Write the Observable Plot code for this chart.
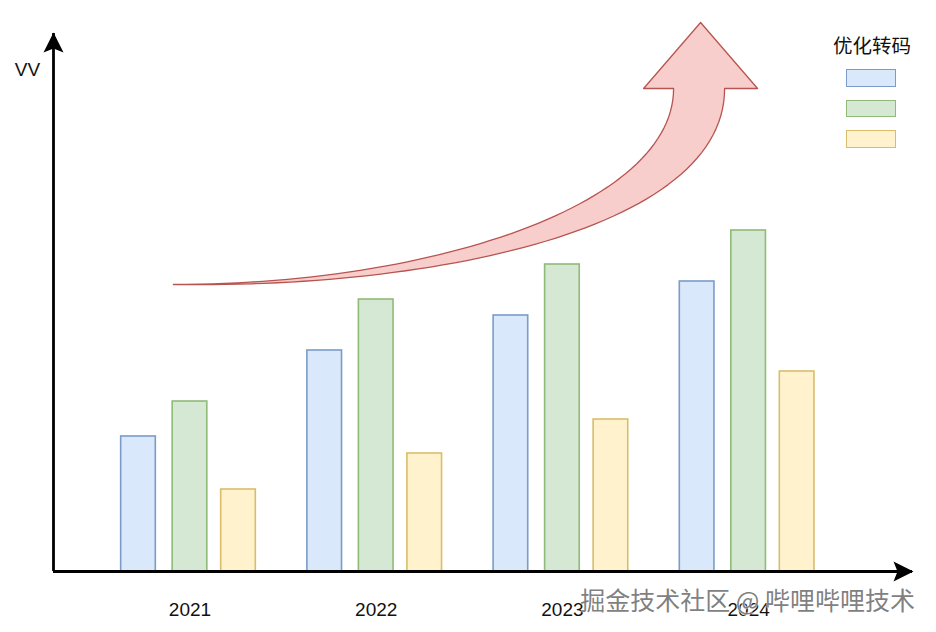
<!DOCTYPE html>
<html>
<head>
<meta charset="utf-8">
<script src="https://cdn.jsdelivr.net/npm/d3@7"></script>
<script src="https://cdn.jsdelivr.net/npm/@observablehq/plot@0.6"></script>
<style>
  html, body { margin: 0; padding: 0; background: #fff; }
  #wrap { position: relative; width: 936px; height: 632px; overflow: hidden; background: #fff; }
  #legend { position: absolute; left: 833px; top: 35px; font-family: "Noto Sans CJK SC", sans-serif; }
  #legend .title { font-size: 19.5px; line-height: 1; color: #111; white-space: nowrap; }
  #legend .sw { position: absolute; left: 13px; width: 48px; height: 15.5px; border: 1.5px solid; }
  #wm { position: absolute; right: 21px; top: 587px; font-family: "Noto Sans CJK SC", sans-serif;
        font-size: 25px; line-height: 1; color: rgba(105,105,105,0.85); white-space: pre;
        text-shadow: 0 0 1px #fff, 0 0 2px #fff; }
</style>
</head>
<body>
<div id="wrap"></div>
<script>
// ---- data ----
const years = [2021, 2022, 2023, 2024];
const blueValues = [135, 221, 256, 290];
const greenValues = [170, 272, 307, 341];
const yellowValues = [82, 118, 152, 200];
const yAxisLabel = "VV";
const legendTitle = "优化转码";
const watermarkText = "掘金技术社区 @ 哔哩哔哩技术";

// trend-arrow annotation control points (year, value)
const arrowUpper = [[2020.911, 287], [2022.292, 287], [2023.597, 366], [2023.597, 483]];
const arrowHead = [[2023.436, 483], [2023.742, 549], [2024.048, 483], [2023.871, 483]];
const arrowLower = [[2023.871, 483], [2023.871, 341], [2022.292, 283], [2020.911, 287]];

// ---- styling ----
const series = [
  {key: "blue", values: blueValues, fill: "#dae8fc", stroke: "#7b9bc9", offset: -0.2766},
  {key: "green", values: greenValues, fill: "#d5e8d4", stroke: "#8fba77", offset: 0},
  {key: "yellow", values: yellowValues, fill: "#fff2cc", stroke: "#d9bd6a", offset: 0.2605}
];
const halfWidth = 0.093;
const xDomain = [2020.267, 2024.880];
const yDomain = [0, 538];

function cubic(p0, p1, p2, p3, n) {
  const out = [];
  for (let i = 0; i <= n; i++) {
    const t = i / n, u = 1 - t;
    const a = u*u*u, b = 3*u*u*t, c = 3*u*t*t, d = t*t*t;
    out.push({x: a*p0[0] + b*p1[0] + c*p2[0] + d*p3[0], y: a*p0[1] + b*p1[1] + c*p2[1] + d*p3[1]});
  }
  return out;
}
const arrowPts = [
  ...cubic(...arrowUpper, 60),
  ...arrowHead.map(([x, y]) => ({x, y})),
  ...cubic(...arrowLower, 60)
];

const upArrow = {draw(ctx) { ctx.moveTo(0, -1); ctx.lineTo(-10, 19); ctx.lineTo(0, 15); ctx.lineTo(10, 19); ctx.closePath(); }};
const rightArrow = {draw(ctx) { ctx.moveTo(1, 0); ctx.lineTo(-19, -10); ctx.lineTo(-15, 0); ctx.lineTo(-19, 10); ctx.closePath(); }};

const barMarks = series.map(s => Plot.rect(
  years.map((year, i) => ({year, value: s.values[i]})),
  {
    x1: d => d.year + s.offset - halfWidth,
    x2: d => d.year + s.offset + halfWidth,
    y1: () => 0,
    y2: d => d.value,
    fill: s.fill, stroke: s.stroke, strokeWidth: 1.6
  }
));

const chart = Plot.plot({
  width: 936,
  height: 632,
  marginLeft: 53, marginRight: 24, marginTop: 33, marginBottom: 61,
  style: {fontFamily: "'Liberation Sans', Arial, Helvetica, sans-serif", fontSize: "19px", color: "#111", background: "#fff"},
  x: {domain: xDomain, ticks: years, tickFormat: d => String(d), tickSize: 0, tickPadding: 31, label: null},
  y: {domain: yDomain, axis: null},
  marks: [
    ...barMarks,
    Plot.line(arrowPts, {x: "x", y: "y", fill: "#f8cecc", stroke: "#b85450", strokeWidth: 1.3, curve: "linear-closed"}),
    Plot.ruleY([0], {stroke: "#000", strokeWidth: 2.8}),
    Plot.ruleX([xDomain[0]], {stroke: "#000", strokeWidth: 2.8}),
    Plot.dot([{x: xDomain[0], y: yDomain[1]}], {x: "x", y: "y", symbol: upArrow, fill: "#000", stroke: "none"}),
    Plot.dot([{x: xDomain[1], y: 0}], {x: "x", y: "y", symbol: rightArrow, fill: "#000", stroke: "none"}),
    Plot.text([yAxisLabel], {frameAnchor: "top-left", dx: -26, dy: 28.5, fontSize: 19, fill: "#111", textAnchor: "middle"})
  ]
});

const wrap = document.getElementById("wrap");
wrap.appendChild(chart);

// legend
const legend = document.createElement("div");
legend.id = "legend";
const title = document.createElement("div");
title.className = "title";
title.textContent = legendTitle;
legend.appendChild(title);
series.forEach((s, i) => {
  const sw = document.createElement("div");
  sw.className = "sw";
  sw.style.top = (34 + i * 30.5) + "px";
  sw.style.background = s.fill;
  sw.style.borderColor = s.stroke;
  legend.appendChild(sw);
});
wrap.appendChild(legend);

// watermark
const wm = document.createElement("div");
wm.id = "wm";
wm.textContent = watermarkText;
wrap.appendChild(wm);
</script>
</body>
</html>
